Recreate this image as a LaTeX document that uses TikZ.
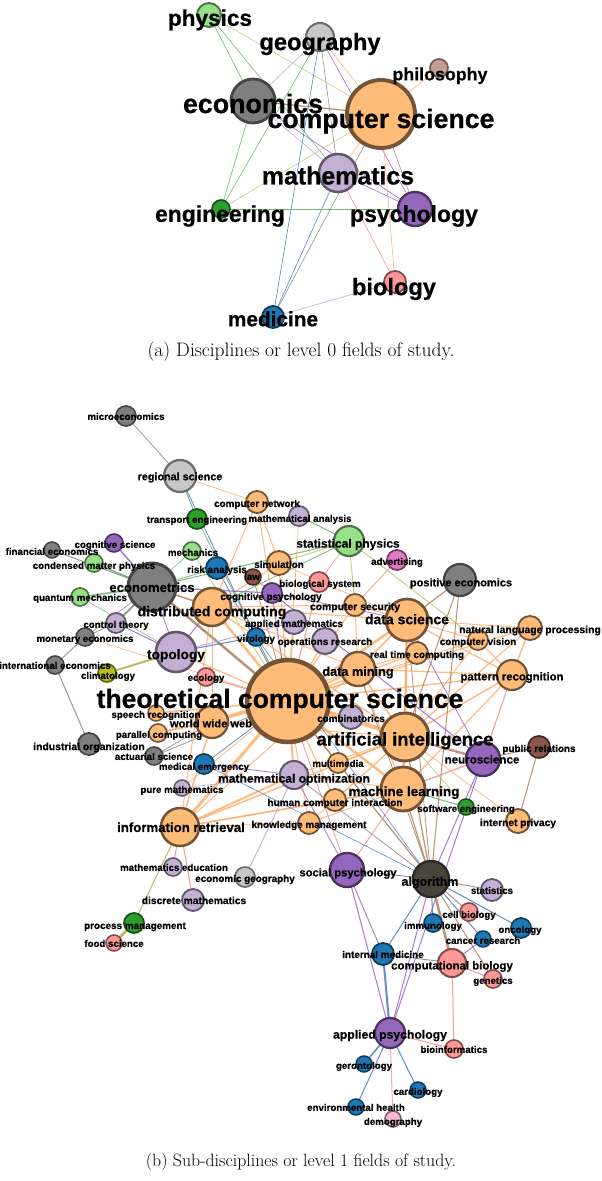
\documentclass[tikz,border=0pt]{standalone}
\usepackage{fontspec}
\newfontfamily\lab{Liberation Sans}[BoldFeatures={FakeBold=0.6}]
\usetikzlibrary{backgrounds}
\pgfdeclarelayer{fg}
\pgfsetlayers{background,main,fg}
\definecolor{cOr}{HTML}{FFBB78}
\definecolor{cGy}{HTML}{7F7F7F}
\definecolor{cLg}{HTML}{C7C7C7}
\definecolor{cLp}{HTML}{C5B0D5}
\definecolor{cPu}{HTML}{9467BD}
\definecolor{cLgr}{HTML}{98DF8A}
\definecolor{cGr}{HTML}{2CA02C}
\definecolor{cPk}{HTML}{FF9896}
\definecolor{cBl}{HTML}{1F77B4}
\definecolor{cBr}{HTML}{8C564B}
\definecolor{cLbr}{HTML}{C49C94}
\definecolor{cMa}{HTML}{E377C2}
\definecolor{cOl}{HTML}{BCBD22}
\definecolor{cDk}{RGB}{72,68,58}
\definecolor{cLpk}{HTML}{F7B6D2}
\definecolor{eo}{RGB}{255,170,100}
\definecolor{ebr}{RGB}{170,120,80}
\definecolor{ebrpk}{RGB}{190,120,120}
\definecolor{egy}{RGB}{130,130,130}
\definecolor{epu}{RGB}{140,90,200}
\definecolor{elp}{RGB}{180,160,210}
\definecolor{ebl}{RGB}{60,110,190}
\definecolor{epk}{RGB}{240,130,130}
\definecolor{epkl}{RGB}{220,150,200}
\definecolor{egr}{RGB}{90,170,90}
\definecolor{eyg}{RGB}{190,200,100}
\definecolor{eol}{RGB}{170,170,60}
\newcommand\fsz[1]{\fontsize{#1}{#1}\selectfont}
\tikzset{
  nd/.style={circle,inner sep=0pt,outer sep=0pt},
  lb/.style={inner sep=0pt,anchor=base,text=black},
  te/.style={line width=0.6pt,draw opacity=0.85},
  be/.style={draw opacity=0.8},
  kOr/.style={fill=cOr,draw=cOr!45!black},
  kGy/.style={fill=cGy,draw=cGy!55!black},
  kLg/.style={fill=cLg,draw=cLg!55!black},
  kLp/.style={fill=cLp,draw=cLp!50!black},
  kPu/.style={fill=cPu,draw=cPu!50!black},
  kLgr/.style={fill=cLgr,draw=cLgr!50!black},
  kGr/.style={fill=cGr,draw=cGr!50!black},
  kPk/.style={fill=cPk,draw=cPk!50!black},
  kBl/.style={fill=cBl,draw=cBl!50!black},
  kBr/.style={fill=cBr,draw=cBr!50!black},
  kLbr/.style={fill=cLbr,draw=cLbr!55!black},
  kMa/.style={fill=cMa,draw=cMa!50!black},
  kOl/.style={fill=cOl,draw=cOl!50!black},
  kDk/.style={fill=cDk,draw=cDk!60!black},
  kLpk/.style={fill=cLpk,draw=cLpk!50!black},
}
% name, x, y, r, class, label x, label y (visual centre), size, text
\newcommand\fnd[9]{%
  \node[nd,#5,minimum size={2*#4},line width={0.8+0.09*#4}] (#1) at (#2,#3) {};
  \begin{pgfonlayer}{fg}
    \node[lb,font=\lab\bfseries\fsz{#8}] (#1l) at (#6,{#7+0.3*#8}) {#9};
  \end{pgfonlayer}}
\begin{document}
\begin{tikzpicture}[x=1pt,y=-1pt]
\useasboundingbox (0,0) rectangle (602,1181);
\begin{pgfonlayer}{background}
\fill[white] (0,0) rectangle (602,1181);
\end{pgfonlayer}
% ---------- (a) level 0 ----------
\fnd{aphy}{209}{15}{12}{kLgr}{210}{19}{22.6}{physics}
\fnd{ageo}{320}{37}{14}{kLg}{320}{43}{23.7}{geography}
\fnd{aphi}{439}{68}{9}{kLbr}{440}{75}{17.8}{philosophy}
\fnd{aeco}{253}{101}{22}{kGy}{253}{105}{26.8}{economics}
\fnd{acs}{381}{114}{34}{kOr}{381}{120}{26.7}{computer science}
\fnd{amath}{338}{173}{19}{kLp}{338}{177}{24.9}{mathematics}
\fnd{aeng}{221}{209}{9}{kGr}{220}{215}{22.9}{engineering}
\fnd{apsy}{415}{209}{17}{kPu}{414}{215}{23}{psychology}
\fnd{abio}{395}{282}{11}{kPk}{394}{288}{23.6}{biology}
\fnd{amed}{273}{317}{11}{kBl}{273}{320}{20.8}{medicine}
\node[font=\fsz{19.5}] (capa) at (301,352) {(a) Disciplines or level 0 fields of study.};
% ---------- (b) level 1 ----------
\fnd{micro}{126}{416}{10}{kGy}{126}{417}{9.7}{microeconomics}
\fnd{regsci}{180}{476}{16}{kLg}{180}{477}{10.8}{regional science}
\fnd{compnet}{257}{502}{11}{kOr}{257}{504}{9.9}{computer network}
\fnd{mathan}{299}{516}{10}{kLp}{300}{519}{9.7}{mathematical analysis}
\fnd{transeng}{197}{519}{10}{kGr}{197}{520}{9.7}{transport engineering}
\fnd{cogsci}{114}{543}{9}{kPu}{115}{545}{9.7}{cognitive science}
\fnd{fineco}{52}{550}{8}{kGy}{52}{552}{9.7}{financial economics}
\fnd{mech}{192}{551}{9}{kLgr}{193}{553}{9.7}{mechanics}
\fnd{cmp}{94}{563}{9}{kLgr}{94}{566}{9.7}{condensed matter physics}
\fnd{risk}{217}{568}{11}{kBl}{217}{570}{9.9}{risk analysis}
\fnd{sim}{279}{563}{12}{kOr}{279}{565}{9.9}{simulation}
\fnd{law}{253}{577}{8}{kBr}{252}{577}{9.7}{law}
\fnd{econom}{152}{587}{24}{kGy}{152}{588}{13.1}{econometrics}
\fnd{qm}{80}{597}{9}{kLgr}{80}{598}{9.7}{quantum mechanics}
\fnd{cogpsy}{272}{593}{10}{kPu}{271}{597}{9.9}{cognitive psychology}
\fnd{biosys}{319}{582}{10}{kPk}{320}{584}{9.7}{biological system}
\fnd{distcomp}{212}{607}{19}{kOr}{212}{612}{14.1}{distributed computing}
\fnd{statphys}{349}{541}{15}{kLgr}{348}{544}{12}{statistical physics}
\fnd{advert}{397}{560}{10}{kMa}{397}{562}{9.7}{advertising}
\fnd{poseco}{460}{580}{16}{kGy}{461}{583}{11}{positive economics}
\fnd{compsec}{355}{605}{11}{kOr}{355}{607}{10.4}{computer security}
\fnd{datasci}{407}{620}{21}{kOr}{407}{620}{14}{data science}
\fnd{nlp}{530}{628}{12}{kOr}{530}{630}{10.4}{natural language processing}
\fnd{compvis}{478}{640}{10}{kOr}{478}{642}{9.9}{computer vision}
\fnd{opres}{325}{641}{13}{kLp}{325}{642}{9.9}{operations research}
\fnd{appmath}{294}{622}{12}{kLp}{294}{624}{9.9}{applied mathematics}
\fnd{viro}{256}{637}{9}{kBl}{256}{639}{9.7}{virology}
\fnd{rtc}{417}{653}{11}{kOr}{417}{655}{9.9}{real time computing}
\fnd{datamin}{358}{669}{17}{kOr}{358}{672}{12.7}{data mining}
\fnd{patrec}{512}{675}{15}{kOr}{512}{677}{11.3}{pattern recognition}
\fnd{topo}{176}{652}{20}{kLp}{176}{655}{13.7}{topology}
\fnd{ctrl}{116}{623}{10}{kLp}{116}{625}{9.7}{control theory}
\fnd{moneco}{85}{637}{9}{kGy}{85}{639}{9.7}{monetary economics}
\fnd{inteco}{55}{665}{9}{kGy}{55}{666}{9.7}{international economics}
\fnd{clim}{107}{673}{9}{kOl}{108}{676}{9.7}{climatology}
\fnd{ecol}{206}{677}{9}{kPk}{206}{678}{9.7}{ecology}
\fnd{tcs}{288}{701}{41}{kOr}{280}{700}{26.5}{theoretical computer science}
\fnd{speech}{156}{713}{8}{kOr}{156}{715}{9.7}{speech recognition}
\fnd{www}{212}{722}{16}{kOr}{211}{724}{11.1}{world wide web}
\fnd{parcomp}{158}{733}{9}{kOr}{159}{735}{9.7}{parallel computing}
\fnd{indorg}{89}{744}{11}{kGy}{89}{747}{10.4}{industrial organization}
\fnd{actu}{154}{756}{9}{kGy}{154}{757}{9.7}{actuarial science}
\fnd{medem}{204}{764}{10}{kBl}{204}{767}{9.7}{medical emergency}
\fnd{puremath}{182}{788}{8}{kLp}{182}{790}{9.7}{pure mathematics}
\fnd{mathopt}{294}{775}{14}{kLp}{294}{779}{12.1}{mathematical optimization}
\fnd{inforet}{180}{827}{19}{kOr}{181}{828}{13.2}{information retrieval}
\fnd{comb}{351}{717}{12}{kLp}{351}{719}{9.9}{combinatorics}
\fnd{ai}{405}{737}{24}{kOr}{405}{740}{18.4}{artificial intelligence}
\fnd{mm}{338}{763}{10}{kOr}{338}{764}{9.7}{multimedia}
\fnd{neuro}{483}{759}{17}{kPu}{482}{760}{11.6}{neuroscience}
\fnd{pr}{539}{747}{11}{kBr}{539}{749}{9.9}{public relations}
\fnd{ml}{403}{789}{22}{kOr}{404}{792}{13.5}{machine learning}
\fnd{hci}{335}{800}{11}{kOr}{335}{803}{10}{human computer interaction}
\fnd{softeng}{466}{807}{8}{kGr}{466}{809}{9.7}{software engineering}
\fnd{intpriv}{518}{821}{12}{kOr}{518}{823}{10.2}{internet privacy}
\fnd{km}{309}{823}{11}{kOr}{309}{825}{9.9}{knowledge management}
\fnd{mathedu}{173}{867}{9}{kLp}{174}{868}{9.7}{mathematics education}
\fnd{ecogeo}{245}{877}{10}{kLg}{245}{879}{9.9}{economic geography}
\fnd{discmath}{193}{900}{11}{kLp}{194}{901}{10.2}{discrete mathematics}
\fnd{procman}{134}{923}{10}{kGr}{135}{926}{9.9}{process management}
\fnd{food}{114}{943}{8}{kPk}{114}{944}{9.7}{food science}
\fnd{socpsy}{347}{870}{17}{kPu}{348}{873}{11.2}{social psychology}
\fnd{algo}{431}{879}{18}{kDk}{430}{882}{12.5}{algorithm}
\fnd{stats}{492}{890}{11}{kLp}{492}{891}{9.7}{statistics}
\fnd{cellbio}{469}{912}{9}{kPk}{469}{915}{9.7}{cell biology}
\fnd{immu}{433}{923}{9}{kBl}{433}{926}{9.7}{immunology}
\fnd{onco}{521}{928}{10}{kBl}{520}{930}{9.7}{oncology}
\fnd{cancer}{483}{939}{8}{kBl}{483}{941}{9.7}{cancer research}
\fnd{intmed}{383}{954}{11}{kBl}{383}{955}{9.9}{internal medicine}
\fnd{compbio}{452}{963}{14}{kPk}{452}{966}{11.4}{computational biology}
\fnd{genet}{493}{979}{9}{kPk}{493}{981}{9.7}{genetics}
\fnd{applpsy}{390}{1033}{15}{kPu}{390}{1035}{12.2}{applied psychology}
\fnd{bioinf}{454}{1049}{9}{kPk}{454}{1050}{9.7}{bioinformatics}
\fnd{geront}{364}{1064}{8}{kBl}{364}{1066}{9.7}{gerontology}
\fnd{cardio}{418}{1090}{8}{kBl}{418}{1092}{9.7}{cardiology}
\fnd{envh}{356}{1107}{8}{kBl}{356}{1108}{9.7}{environmental health}
\fnd{demo}{393}{1119}{8}{kLpk}{393}{1122}{9.7}{demography}
\node[font=\fsz{17.8}] (capb) at (301,1162) {(b) Sub-disciplines or level 1 fields of study.};
% ---------- edges ----------
\begin{pgfonlayer}{background}
\foreach \a/\b/\c in {aphy/aeco/egr, aphy/acs/eyg, aphy/amath/egr, ageo/aeco/elp, ageo/aeng/egr,
  ageo/amed/ebl, ageo/amath/egy, ageo/acs/eo, ageo/apsy/epu, aphi/acs/eo, aeco/aeng/egr,
  aeco/amath/elp, aeco/apsy/epu, acs/amath/eo, acs/aeng/eyg, acs/apsy/ebrpk, acs/abio/eo,
  acs/amed/egy, amath/apsy/epu, amath/amed/ebl, amath/abio/epk, aeng/apsy/egr, abio/amed/elp}
  \draw[te,\c] (\a) -- (\b);
\draw[te,ebr,line width=1.2pt] (aeco) -- (acs);
\foreach \a/\b/\c/\w in {
  tcs/distcomp/eo/2.5, tcs/datasci/eo/2.5, tcs/datamin/eo/2, tcs/ai/eo/3.5, tcs/ml/eo/2.5,
  tcs/inforet/eo/3, tcs/www/eo/2, tcs/speech/eo/1.5, tcs/parcomp/eo/1.5, tcs/compnet/eo/1,
  tcs/sim/eo/1.2, tcs/compsec/eo/1.2, tcs/rtc/eo/1.2, tcs/nlp/eo/1.2, tcs/compvis/eo/1,
  tcs/patrec/eo/1.5, tcs/mm/eo/1.2, tcs/hci/eo/1.2, tcs/km/eo/1, tcs/comb/eo/1.5,
  tcs/appmath/eo/1.2, tcs/opres/eo/1.2, tcs/mathopt/eo/2, tcs/topo/eo/1.2, tcs/mathan/eo/0.8,
  tcs/viro/eo/1, tcs/puremath/eo/0.8, tcs/ecol/epk/1.2, tcs/biosys/epk/1, tcs/law/ebr/0.8,
  tcs/cogpsy/epu/0.8, tcs/mech/eyg/0.8, tcs/transeng/egr/0.8, tcs/risk/ebl/0.8, tcs/medem/ebl/0.8,
  tcs/actu/egy/0.8, tcs/econom/ebr/2.5, tcs/moneco/eo/0.7, tcs/algo/ebr/1.2, tcs/socpsy/epk/0.8,
  distcomp/datasci/eo/1.2, distcomp/ai/eo/1.2, distcomp/datamin/eo/1, distcomp/compsec/eo/1,
  distcomp/www/eo/1, distcomp/inforet/eo/1, distcomp/compnet/eo/1, distcomp/sim/eo/1,
  distcomp/econom/ebr/1.5, distcomp/topo/epu/1,
  datasci/datamin/eo/1.5, datasci/ai/eo/2, datasci/ml/eo/1.5, datasci/patrec/eo/1.2,
  datasci/rtc/eo/1, datasci/compvis/eo/1, datasci/nlp/eo/1, datasci/compsec/eo/1, datasci/sim/eo/0.8,
  ai/ml/eo/2.5, ai/patrec/eo/1.5, ai/datamin/eo/1.5, ai/nlp/eo/1.2, ai/compvis/eo/1, ai/mm/eo/1,
  ai/hci/eo/1, ai/inforet/eo/1.5, ai/www/eo/1, ai/km/eo/0.8, ai/comb/eo/1, ai/intpriv/eo/0.8,
  ai/mathopt/eo/1,
  ml/patrec/eo/1.2, ml/datamin/eo/1.2, ml/inforet/eo/1.5, ml/hci/eo/1, ml/km/eo/1, ml/mathopt/eo/1,
  inforet/www/eo/1.5, inforet/datamin/eo/1, inforet/km/eo/1, inforet/hci/eo/1, inforet/mathopt/eo/2,
  patrec/nlp/eo/1.5, patrec/compvis/eo/1, patrec/datamin/eo/1.2,
  compnet/sim/eo/1, compnet/regsci/eo/0.8,
  www/datamin/eo/1, www/parcomp/eo/1, www/speech/eo/1, www/actu/egy/0.8,
  datamin/rtc/eo/1, datamin/compsec/eo/1,
  poseco/datasci/ebr/1.2, poseco/ai/ebr/1, poseco/algo/ebr/1, algo/ai/ebr/1.2, algo/ml/ebr/1.2,
  algo/datamin/ebr/0.8, algo/compbio/ebr/2.5, algo/genet/ebr/1, algo/cellbio/ebr/1, algo/datasci/ebr/0.8,
  algo/immu/ebl/1, algo/onco/ebl/1, algo/cancer/ebl/1, algo/intmed/ebl/1, algo/stats/egy/1,
  algo/socpsy/egy/1, algo/applpsy/epu/1, algo/mathopt/egy/0.8, algo/neuro/epu/1,
  cogpsy/neuro/epu/1, cogpsy/econom/epu/1.2, cogpsy/datasci/epu/0.8, cogsci/econom/epu/1.5,
  neuro/ai/ebrpk/2.5, neuro/ml/epk/1.2, neuro/pr/ebr/1, neuro/patrec/epk/1, neuro/datasci/epu/0.8,
  neuro/applpsy/epu/1, socpsy/applpsy/epu/1, socpsy/intmed/egy/1, socpsy/mathopt/epu/0.8,
  socpsy/ml/epk/0.8, mathopt/ecogeo/elp/1, medem/mathopt/epu/0.8, puremath/mathopt/elp/0.8,
  topo/ctrl/epu/1, topo/appmath/elp/1, topo/econom/epu/0.8,
  micro/regsci/egy/0.8, fineco/econom/egy/1, ctrl/econom/egy/2, ctrl/moneco/egy/0.8,
  moneco/inteco/egy/1, inteco/indorg/egy/1, moneco/econom/egy/0.8,
  cmp/econom/egr/1.5, qm/econom/egr/1.5, qm/topo/egr/0.6, econom/statphys/egr/1,
  regsci/transeng/egr/1, regsci/viro/ebl/0.8, mathan/statphys/egr/1, statphys/sim/eyg/1,
  statphys/distcomp/egr/0.8, statphys/compsec/eyg/1, statphys/compvis/eyg/1, softeng/ml/egr/1,
  softeng/ai/eyg/0.8, mech/econom/egr/0.6,
  clim/topo/eol/2, inforet/procman/eol/1, procman/food/eol/2.5,
  advert/compsec/epk/0.8, biosys/statphys/epk/0.6, law/cogpsy/ebr/0.8, inforet/mathedu/epk/1,
  inforet/discmath/epk/1, compbio/cancer/epu/1, compbio/genet/epk/1, compbio/intmed/egy/1,
  compbio/bioinf/epk/1, applpsy/bioinf/epk/1, applpsy/demo/epkl/1,
  topo/viro/ebl/1, intmed/applpsy/ebl/2, applpsy/geront/ebl/1.5, applpsy/cardio/ebl/1,
  applpsy/envh/ebl/1, medem/algo/ebl/0.6, viro/algo/ebl/0.6, risk/econom/egr/0.8,
  pr/intpriv/ebr/1}
  \draw[be,\c,line width=\w] (\a) -- (\b);
\end{pgfonlayer}
\end{tikzpicture}
\end{document}
